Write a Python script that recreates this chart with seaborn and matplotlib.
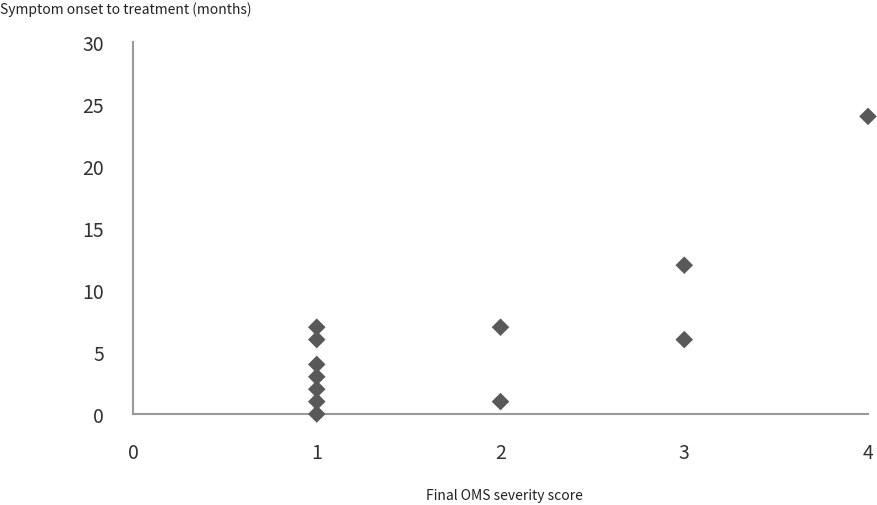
import pandas as pd
import matplotlib
matplotlib.use("Agg")
import matplotlib.pyplot as plt
import seaborn as sns

# Data
oms_score = [1, 1, 1, 1, 1, 1, 1, 2, 2, 3, 3, 4]
onset_months = [7, 6, 4, 3, 2, 1, 0, 7, 1, 12, 6, 24]
x_ticks = [0, 1, 2, 3, 4]
y_ticks = [0, 5, 10, 15, 20, 25, 30]

df = pd.DataFrame({"score": oms_score, "months": onset_months})

sns.set_theme(style="white")
plt.rcParams["font.family"] = ["Noto Sans CJK KR", "DejaVu Sans"]

fig = plt.figure(figsize=(8.78, 5.06), dpi=100)
ax = fig.add_axes([133 / 878, 1 - 415 / 506, (868 - 133) / 878, (415 - 43) / 506])

sns.scatterplot(data=df, x="score", y="months", marker="D", s=80,
                color="#595959", edgecolor="none", ax=ax, clip_on=False, zorder=3)

ax.set_xlim(0, 4)
ax.set_ylim(0, 30)
ax.set_xticks(x_ticks)
ax.set_yticks(y_ticks)
ax.tick_params(axis="both", length=0, labelsize=14, labelcolor="#333333")
ax.tick_params(axis="x", pad=20)
ax.tick_params(axis="y", pad=21)

for side in ["top", "right"]:
    ax.spines[side].set_visible(False)
for side in ["left", "bottom"]:
    ax.spines[side].set_color("#9a9a9a")
    ax.spines[side].set_linewidth(1.5)

ax.set_xlabel("")
ax.set_ylabel("")
fig.text(0.0, 1 - 10 / 506, "Symptom onset to treatment (months)",
         ha="left", va="center", fontsize=10, color="#222222")
fig.text(0.575, 1 - 496 / 506, "Final OMS severity score",
         ha="center", va="center", fontsize=10, color="#222222")

fig.savefig("out.png", dpi=100)
